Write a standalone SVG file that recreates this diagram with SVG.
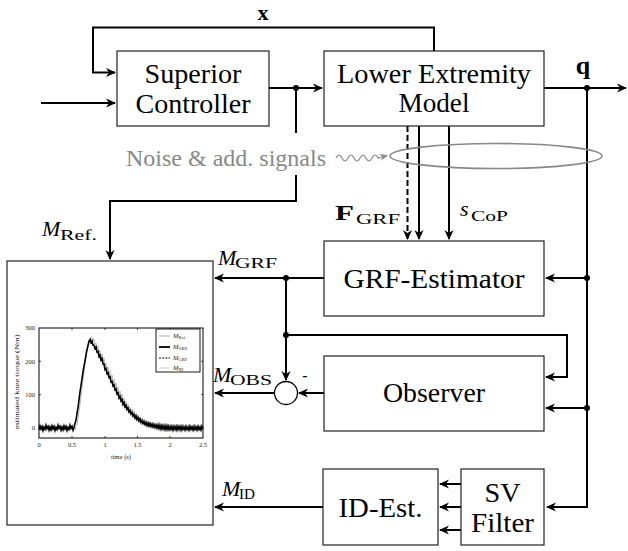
<svg xmlns="http://www.w3.org/2000/svg" width="628" height="551" viewBox="0 0 628 551">
<style>
.box{fill:#fff;stroke:#222;stroke-width:1.2}
.lbl{font-family:"Liberation Serif","Times New Roman",serif;font-size:28px;fill:#000;text-anchor:middle}
.w{fill:none;stroke:#000;stroke-width:2}
.a{marker-end:url(#arr)}
.m{font-family:"Liberation Serif","Times New Roman",serif;font-style:italic;font-size:22px;fill:#000}
.sub{font-family:"Liberation Serif","Times New Roman",serif;font-size:15px;fill:#000}
.bf{font-family:"Liberation Serif","Times New Roman",serif;font-weight:bold;fill:#000}
.dot{fill:#000}
.sm{font-family:"Liberation Serif","Times New Roman",serif;font-size:6.5px;fill:#222}
.nz{font-family:"Liberation Serif","Times New Roman",serif;font-size:23px;fill:#888}
</style>
<defs>
<marker id="arr" markerUnits="userSpaceOnUse" markerWidth="14" markerHeight="12" viewBox="-11 -6 13 12" refX="0" refY="0" orient="auto">
<path d="M1,0 L-9,-4.6 L-6,0 L-9,4.6 Z" fill="#000"/>
</marker>
<marker id="garr" markerUnits="userSpaceOnUse" markerWidth="12" markerHeight="10" viewBox="-9 -5 11 10" refX="0" refY="0" orient="auto">
<path d="M1,0 L-7,-3.5 L-4.5,0 L-7,3.5 Z" fill="#888"/>
</marker>
</defs>
<rect width="628" height="551" fill="#fff"/>

<g id="connectors">
<path class="w a" d="M434,51 V27.5 H93 V72.5 H115"/>
<path class="w a" d="M41,103 H115"/>
<path class="w a" d="M269,88 H322"/>
<path class="w a" d="M296,88 V201 H110 V259"/>
<path class="w a" d="M544,88 H626"/>
<path class="w a" d="M587,88 V507 H547"/>
<path class="w a" d="M587,278 H546"/>
<path class="w a" d="M587,408 H546"/>
<path class="w a" d="M407.5,126 V239" stroke-dasharray="6,3"/>
<path class="w a" d="M419,126 V239"/>
<path class="w a" d="M449,126 V239"/>
<path class="w a" d="M324,278 H215"/>
<path class="w a" d="M286,278 V380"/>
<path class="w a" d="M286,335 H567 V377 H546"/>
<path class="w a" d="M324,393 H299"/>
<path class="w a" d="M274.5,393 H215"/>
<path class="w a" d="M323,507 H215"/>
<path class="w a" d="M461,484 H440"/>
<path class="w a" d="M461,507 H440"/>
<path class="w a" d="M461,530 H440"/>
<circle class="dot" cx="296" cy="88" r="3"/>
<circle class="dot" cx="587" cy="88" r="3"/>
<circle class="dot" cx="587" cy="278" r="3"/>
<circle class="dot" cx="587" cy="408" r="3"/>
<circle class="dot" cx="286" cy="278" r="3"/>
<circle class="dot" cx="286" cy="335" r="3"/>
</g>

<g id="noise">
<rect x="122" y="133" width="210" height="42" fill="#fff"/>
<text class="nz" x="126" y="166" textLength="200" lengthAdjust="spacingAndGlyphs">Noise &amp; add. signals</text>
<path d="M336,158 c2,-4 4,-4 6,0 s4,4 6,0 s4,-4 6,0 s4,4 6,0 s4,-4 6,0 s4,4 6,0 s4,-4 6,0 l9,-2.5" fill="none" stroke="#888" stroke-width="1.2" marker-end="url(#garr)"/>
<ellipse cx="496" cy="156" rx="106" ry="12.5" fill="none" stroke="#888" stroke-width="1.6"/>
</g>

<g id="superior-controller">
<rect class="box" x="117" y="51" width="152" height="75"/>
<text class="lbl" x="193" y="83" textLength="97" lengthAdjust="spacingAndGlyphs">Superior</text>
<text class="lbl" x="193" y="113" textLength="115" lengthAdjust="spacingAndGlyphs">Controller</text>
</g>
<g id="lower-extremity-model">
<rect class="box" x="324" y="51" width="220" height="75"/>
<text class="lbl" x="434" y="83" textLength="194" lengthAdjust="spacingAndGlyphs">Lower Extremity</text>
<text class="lbl" x="434" y="112" textLength="71" lengthAdjust="spacingAndGlyphs">Model</text>
</g>
<g id="grf-estimator">
<rect class="box" x="324" y="241" width="220" height="75"/>
<text class="lbl" x="434" y="288" textLength="181" lengthAdjust="spacingAndGlyphs">GRF-Estimator</text>
</g>
<g id="observer">
<rect class="box" x="324" y="356" width="220" height="75"/>
<text class="lbl" x="434" y="402" textLength="102" lengthAdjust="spacingAndGlyphs">Observer</text>
</g>
<g id="id-est">
<rect class="box" x="323" y="469" width="115" height="76"/>
<text class="lbl" x="380.5" y="517" textLength="84" lengthAdjust="spacingAndGlyphs">ID-Est.</text>
</g>
<g id="sv-filter">
<rect class="box" x="461" y="469" width="83" height="76"/>
<text class="lbl" x="502.5" y="502" textLength="36" lengthAdjust="spacingAndGlyphs">SV</text>
<text class="lbl" x="502.5" y="532" textLength="63" lengthAdjust="spacingAndGlyphs">Filter</text>
</g>
<g id="sum">
<circle cx="286" cy="393" r="11.5" fill="#fff" stroke="#000" stroke-width="1.3"/>
<text x="305" y="381" font-family="Liberation Sans, sans-serif" font-size="16" text-anchor="middle">-</text>
</g>

<g id="labels">
<text class="bf" x="263" y="20" font-size="22" text-anchor="middle">x</text>
<text class="bf" x="583" y="74" font-size="26" text-anchor="middle">q</text>
<text class="m" x="42" y="236">M</text><text class="sub" x="60" y="240" textLength="37" lengthAdjust="spacingAndGlyphs">Ref.</text>
<text class="m" x="218" y="265">M</text><text class="sub" x="235" y="268" textLength="42" lengthAdjust="spacingAndGlyphs">GRF</text>
<text class="m" x="213" y="382">M</text><text class="sub" x="230" y="385" textLength="42" lengthAdjust="spacingAndGlyphs">OBS</text>
<text class="m" x="222" y="496">M</text><text class="sub" x="239" y="499" textLength="16" lengthAdjust="spacingAndGlyphs">ID</text>
<text class="bf" x="335" y="220" font-size="22" textLength="19" lengthAdjust="spacingAndGlyphs">F</text><text class="sub" x="356" y="224" textLength="44" lengthAdjust="spacingAndGlyphs">GRF</text>
<text class="m" x="460" y="216">s</text><text class="sub" x="471" y="221" textLength="37" lengthAdjust="spacingAndGlyphs">CoP</text>
</g>

<g id="plot">
<rect x="7" y="261" width="206" height="264" fill="#fff" stroke="#222" stroke-width="1.2"/>
<polyline fill="none" stroke="#b5b5b5" stroke-width="1" points="39,426 40,430 41,427 42,431 43,425 44,429 45,426 46,431 47,427 48,430 49,425 50,428 51,431 52,426 53,429 54,425 55,430 56,427 57,431 58,426 59,429 60,425 61,430 62,427 63,431 64,426 65,429 66,425 67,430 68,427 69,431 70,426 71,429 72,425 73,430 74,427 75,430 76,426 77,425 78,418 79.5,408 81,396 82.5,384 84,372 85.5,360 87,350 88.5,343 90,338 91.5,337 93,341 94,339 95,345 96,343 97,349 98,346 99,353 100,350 101,358 102,354 103,362 104,358 105,367 106,363 107,371 108,367 109,376 110,371 111,380 112,375 113,384 114,379 115,388 116,383 117,392 118,387 119,396 120,391 121,399 122,394 123,403 124,398 125,406 126,401 127,409 128,404 129,412 130,407 131,414 132,409 133,417 134,411 135,419 136,413 137,421 138,415 139,422 140,417 141,423 142,418 143,425 144,419 145,426 146,420 147,427 148,421 149,427 150,422 152,428 153,422 155,429 156,423 158,429 159,422 161,430 162,424 164,430 165,423 167,430 168,424 170,431 171,424 173,430 174,425 176,431 177,424 179,430 180,425 182,431 183,424 185,430 186,425 188,431 189,424 191,430 192,425 194,431 195,424 197,430 198,425 200,431 201,424 203,430"/>
<polyline fill="none" stroke="#000" stroke-width="1.6" points="39,429.8 40,425.8 41,428.9 42,426.6 43,430.6 44,427.3 45,429.2 46,425.2 47,428.4 48,426.4 49,430.1 50,427 51,429.8 52,425.8 53,428.9 54,426.6 55,430.6 56,427.3 57,429.2 58,425.2 59,428.4 60,426.4 61,430.1 62,427 63,429.8 64,425.8 65,428.9 66,426.6 67,430.6 68,427.3 69,429.2 70,425.2 71,428.4 72,426.4 73,430.1 74,427 76,420 78.4,404.7 80,392 81.6,381.3 83.3,370 84.9,361.3 86.5,352 88.2,344.7 89,341 90.2,339.5 91,342.5 92,341 92.8,344.7 94,345.5 95,348.5 96,347 97,352 98,351.5 99,356.5 100,355 101,360 102,358.5 103,364 104,364 105,369.5 106,368.5 107,373.5 108,372.5 109,377.5 110,377 111,382 112,381.5 113,386 114,385 115,390 116,389 117,394 118,393 119,398 120,396.5 121,401 122,399.5 123,404.5 124,402.5 125,407 126,405.5 127,409.5 128,408 129,412 130,410.5 131,414 132,412.5 133,416 134,414.5 135,418 136,416 137,419.5 138,417.5 139,421 140,419 141,422.5 142,420.5 143,423.5 144,421.5 145,424.5 146,422.5 147,425.5 148,423 149,426 150,423.5 151,426.5 152,424 153,427 154,424.5 155,427.5 156,425 157,428 158,425 159,428.5 160,425.5 161,429 162,425.5 163,429 164,426 165,429.5 166,426 167,429.5 168,426 169,429.5 170,426.5 171,429.5 172,426.5 173,430 174,426.5 175,429.5 176,426.5 177,430 178,426.5 179,429.5 180,426.5 181,430 182,426.5 183,429.5 184,427 185,430 186,426.5 187,429.5 188,427 189,430 190,426.5 191,429.5 192,427 193,430 194,426.5 195,429.5 196,427 197,430 198,426.5 199,429.5 200,427 201,430 202,426.5 203,429"/>
<rect x="39" y="328" width="164" height="110" fill="none" stroke="#000" stroke-width="1"/>
<path d="M39,361.3 h2 M39,394.7 h2 M39,428 h2 M203,361.3 h-2 M203,394.7 h-2 M203,428 h-2 M72,438 v-2 M105,438 v-2 M137.5,438 v-2 M170,438 v-2 M72,328 v2 M105,328 v2 M137.5,328 v2 M170,328 v2" stroke="#000" stroke-width="0.7" fill="none"/>
<g class="sm" text-anchor="end">
<text x="35" y="330">300</text><text x="35" y="363.5">200</text><text x="35" y="397">100</text><text x="35" y="430">0</text>
</g>
<g class="sm" text-anchor="middle">
<text x="39" y="447">0</text><text x="72" y="447">0.5</text><text x="105" y="447">1</text><text x="137.5" y="447">1.5</text><text x="170" y="447">2</text><text x="203" y="447">2.5</text>
<text x="121" y="459">time (s)</text>
<text transform="translate(19,382) rotate(-90)" textLength="95" lengthAdjust="spacingAndGlyphs">estimated knee torque (Nm)</text>
</g>
<rect x="156" y="329" width="44" height="43" fill="#fff" stroke="#000" stroke-width="0.9"/>
<line x1="159" y1="336" x2="170" y2="336" stroke="#bbb" stroke-width="1.2"/>
<line x1="159" y1="347" x2="170" y2="347" stroke="#000" stroke-width="1.8"/>
<line x1="159" y1="358" x2="170" y2="358" stroke="#000" stroke-width="1" stroke-dasharray="2,1.2"/>
<line x1="159" y1="368" x2="170" y2="368" stroke="#bbb" stroke-width="0.8"/>
<g class="sm" font-style="italic">
<text x="173" y="338">M<tspan font-style="normal" font-size="4.5" dy="1.2">Ref</tspan></text>
<text x="173" y="349">M<tspan font-style="normal" font-size="4.5" dy="1.2">OBS</tspan></text>
<text x="173" y="360">M<tspan font-style="normal" font-size="4.5" dy="1.2">GRF</tspan></text>
<text x="173" y="370">M<tspan font-style="normal" font-size="4.5" dy="1.2">ID</tspan></text>
</g>
</g>
</svg>
